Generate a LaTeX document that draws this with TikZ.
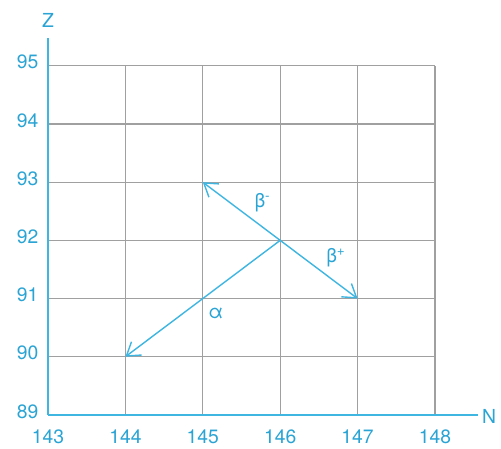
\documentclass[tikz,border=0pt]{standalone}
\usepackage{fontspec}
\setmainfont{TeX Gyre Heros}
\usetikzlibrary{arrows.meta,positioning}
\definecolor{axc}{HTML}{3FB6E2}
\definecolor{lbl}{HTML}{2AA4D4}
\definecolor{grd}{HTML}{A0A0A0}
\tikzset{
  grid line/.style={grd, line width=1.1pt},
  axis/.style={axc, line width=1.6pt},
  decay/.style={axc, line width=1.2pt, -{Straight Barb[length=0.38cm,width=0.5cm,line width=1.2pt]}},
  tick/.style={lbl, font=\fontsize{16.5}{19}\selectfont},
}
\begin{document}
\begin{tikzpicture}[x=2.322cm,y=1.746cm]
  \useasboundingbox (-0.62,-0.584) rectangle (5.853,7.13);
  % grid
  \foreach \i in {1,...,5} \draw[grid line] (\i,0) -- (\i,6);
  \foreach \j in {1,...,6} \draw[grid line] (0,\j) -- (5,\j);
  % axes
  \draw[axis] (0,0) -- (5.55,0);
  \draw[axis] (0,0) -- (0,6.48);
  \node[tick] (nlab) at (5.70,-0.02) {N};
  \node[tick] (zlab) at (0,6.78) {Z};
  % tick labels
  \foreach \n [count=\i from 0] in {143,...,148}
    \node[tick] (n\n) at (\i,-0.38) {\n};
  \foreach \z [count=\j from 0] in {89,...,95}
    \node[tick, left] (z\z) at (-0.07,\j+0.06) {\z};
  % decays
  \coordinate (u) at (3,3);
  \coordinate (bm) at (2,4);
  \coordinate (bp) at (4,2);
  \coordinate (al) at (1,1);
  \draw[decay] (u) -- (bm);
  \draw[decay] (u) -- (bp);
  \draw[decay] (u) -- (al);
  \node[tick] (lbm) at (2.77,3.65) {β\textsuperscript{-}};
  \node[tick] (lbp) at (3.72,2.7) {β\textsuperscript{+}};
  \node[tick] (lal) at (2.17,1.74) {α};
\end{tikzpicture}
\end{document}
